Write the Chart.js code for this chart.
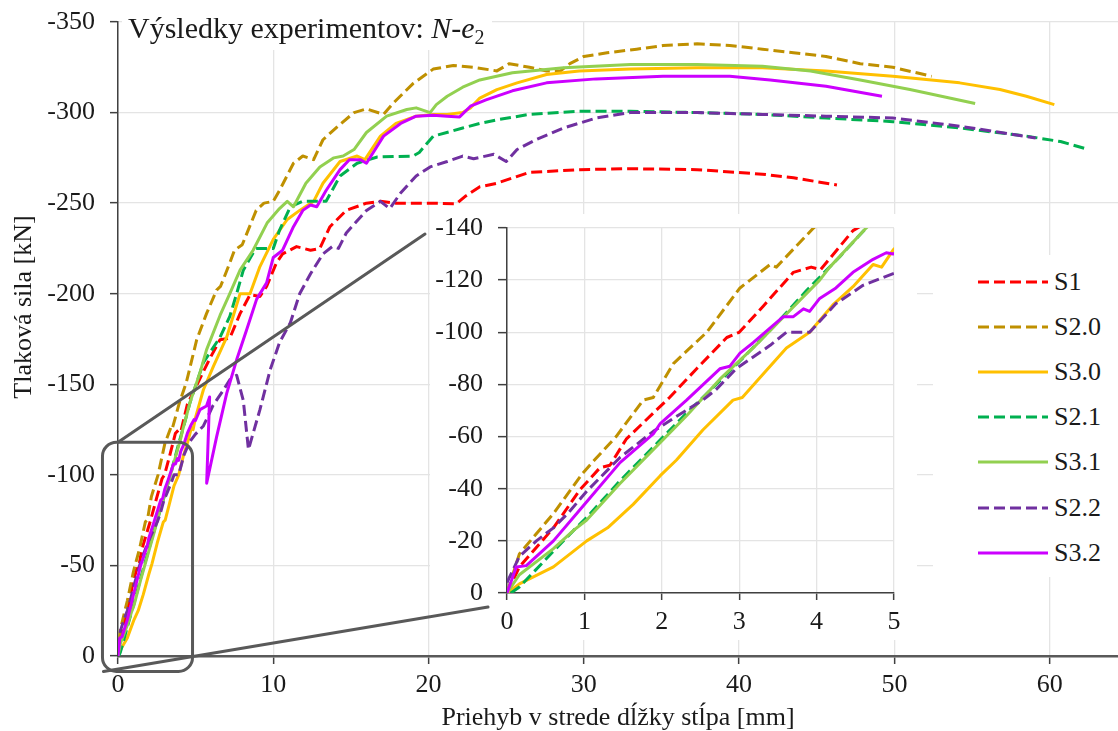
<!DOCTYPE html>
<html>
<head>
<meta charset="utf-8">
<title>Výsledky experimentov: N-e2</title>
<script src="https://cdn.jsdelivr.net/npm/chart.js@4.4.1/dist/chart.umd.min.js"></script>
<style>
  body { margin: 0; background: #fff; }
  #wrap { position: relative; width: 1118px; height: 731px; overflow: hidden; background: #fff; }
  #mainChart { position: absolute; left: 0; top: 0; }
  #insetChart { position: absolute; left: 430px; top: 214px; background: #fff; }
  #legend { position: absolute; left: 933px; top: 255px; width: 185px; height: 322px; background: #fff;
            font-family: 'Liberation Serif', 'Times New Roman', serif; font-size: 26px; color: #1a1a1a;
            padding-top: 4px; box-sizing: border-box; }
  .row { height: 45.2px; display: flex; align-items: center; white-space: nowrap; }
  .row svg { margin-left: 45px; margin-right: 6px; }
</style>
</head>
<body>
<div id="wrap">
  <canvas id="mainChart" width="1118" height="731"></canvas>
  <canvas id="insetChart" width="487" height="426"></canvas>
  <div id="legend"></div>
</div>
<script>
// ------------------------- DATA ----------------------------------------------

// deflection [mm] / force [kN], one pair of arrays per specimen
var s1X = [0, 0.16, 0.6, 0.94, 1.2, 1.33, 1.54, 1.89, 2.1, 2.45, 2.84, 3.0, 3.31, 3.7, 3.93, 4.05, 4.47, 5.1, 5.9, 6.57, 7.2, 7.86, 8.5, 9.14, 9.57, 10.2, 10.6, 11.5, 12.4, 13.0, 13.65, 14.7, 16.0, 16.9, 17.9, 20.1, 21.8, 22.4, 23.3, 24.4, 26.5, 29.7, 33.0, 37.3, 41.5, 43.5, 46.3];
var s1Y = [0, -10, -25, -39.5, -48, -49, -59, -69, -75, -86, -98, -100, -110, -123, -125, -124, -139, -150, -164, -174.6, -175.5, -189, -199.4, -198.5, -204, -217, -222, -226, -224, -225, -237, -246, -250, -251, -250, -250, -249.7, -254, -259, -261, -267, -268.5, -269, -268.5, -266, -264, -260];

var s20X = [0, 0.16, 0.6, 0.98, 1.13, 1.41, 1.76, 1.89, 2.15, 2.58, 3.01, 3.40, 3.48, 3.96, 4.4, 5.07, 5.7, 6.35, 6.6, 7.2, 7.5, 8.0, 8.9, 9.4, 10.0, 10.4, 11.3, 11.9, 12.6, 13.2, 14.1, 15.2, 16.0, 17.1, 17.7, 19.0, 20.3, 21.6, 22.9, 24.4, 25.2, 26.5, 27.6, 28.5, 29.1, 30.0, 31.5, 33.4, 35.1, 37.3, 39.4, 41.5, 43.5, 45.6, 47.8, 49.9, 52.4];
var s20Y = [0, -15, -30.5, -46, -51, -60, -74, -75, -88, -100, -117, -126, -125, -140, -151, -174.6, -189, -202, -204, -217, -224, -227, -246, -250, -251, -257, -272, -276, -274, -285, -292, -300, -302, -299, -305, -316, -324, -326, -325, -323, -327, -325, -323, -323, -327, -331, -333, -335, -337, -338, -337, -335, -333, -331, -327, -325, -320];

var s30X = [0, 0.16, 0.6, 1.03, 1.3, 1.63, 1.98, 2.19, 2.53, 2.92, 3.04, 3.31, 3.61, 3.91, 4.21, 4.47, 4.73, 4.84, 4.99, 5.5, 6.15, 7.0, 7.86, 8.5, 9.14, 10.0, 10.9, 11.7, 12.6, 13.2, 14.3, 15.4, 15.9, 16.9, 17.9, 19.2, 20.3, 21.2, 22.2, 22.7, 23.3, 24.4, 25.7, 27.6, 29.7, 33.0, 37.3, 41.5, 45.6, 49.9, 54.2, 56.8, 58.5, 60.3];
var s30Y = [0, -3.5, -10, -20, -25, -34, -45, -51, -62.5, -74, -75, -84, -94, -100, -110.5, -117.5, -126, -125, -131.6, -147, -160, -176, -200, -200, -215, -230, -241, -246, -251, -261, -273, -276, -274, -287, -294, -298, -299, -299, -300, -302.6, -308, -312.7, -316.4, -321, -323, -324, -324.7, -324.7, -323, -320, -316.4, -312.7, -309, -304.4];

var s21X = [0.05, 0.16, 0.6, 0.86, 1.03, 1.46, 1.89, 2.32, 2.67, 3.01, 3.44, 3.87, 4.3, 4.64, 5.5, 6.57, 7.2, 7.64, 8.07, 8.7, 8.9, 10.0, 10.4, 11.1, 11.9, 13.2, 13.4, 14.3, 15.4, 16.7, 19.0, 19.4, 20.3, 21.6, 22.2, 23.3, 24.4, 26.5, 29.7, 33.0, 37.3, 41.5, 45.6, 49.9, 54.2, 58.5, 60.7, 62.5];
var s21Y = [0, -2.3, -16, -24, -29, -43, -56, -69, -79, -89, -102, -116, -129, -140, -162, -176, -187.5, -200, -213, -222.5, -225, -225, -235, -248, -251, -251, -251, -265, -272, -275.5, -276, -278, -287, -290, -291.5, -294, -296, -299, -300.7, -300.7, -300, -299, -297, -295, -291.5, -287, -284, -279.6];

var s31X = [0, 0.16, 0.6, 0.86, 1.03, 1.46, 1.89, 2.32, 2.75, 3.18, 3.61, 4.04, 4.17, 4.64, 5.3, 5.7, 6.57, 7.2, 7.86, 8.7, 9.6, 10.4, 10.9, 11.3, 12.1, 13.0, 13.9, 14.5, 15.2, 16.0, 17.3, 18.6, 19.2, 20.1, 20.5, 21.2, 22.2, 23.3, 25.4, 28.7, 33.0, 37.3, 41.5, 44.6, 47.8, 51.0, 55.2];
var s31Y = [0, -7, -17, -24, -28, -42, -55, -68, -82, -94, -107, -120, -125, -140, -157, -169, -188, -200, -213, -224, -239, -247, -251, -248, -261, -270, -275, -276, -279.6, -289, -298, -301.7, -302.6, -300, -304.4, -309, -314, -318, -322, -324.7, -326.5, -326.5, -325.6, -323, -318, -312.7, -305];

var s22X = [0, 0.16, 0.38, 0.6, 0.8, 1.03, 1.46, 1.89, 2.15, 2.53, 2.7, 2.96, 3.40, 3.61, 3.91, 4.25, 4.6, 4.99, 5.5, 6.1, 6.8, 7.2, 7.64, 8.07, 8.4, 9.14, 9.8, 10.4, 11.1, 11.7, 12.4, 13.2, 13.8, 14.2, 14.7, 16.0, 16.9, 17.5, 18.2, 19.2, 20.1, 21.2, 22.2, 22.9, 24.2, 25.0, 25.7, 26.9, 28.7, 30.8, 33.0, 37.3, 41.5, 45.6, 49.9, 54.2, 59.1];
var s22Y = [-4, -14, -20, -25, -31, -39, -52, -62, -67, -74, -78, -86, -95, -100, -100, -111, -118, -122.5, -127, -138, -147, -152.5, -155, -141, -114, -136, -158, -173, -184, -200, -211, -222, -226, -225, -233.5, -246, -251, -247, -255.6, -265, -270, -273, -276, -274.5, -277, -273, -279.6, -285, -291.5, -297, -300, -300, -299, -298, -297, -292.5, -286];

var s32X = [0, 0.12, 0.25, 0.6, 1.03, 1.46, 1.89, 1.98, 2.32, 2.75, 2.88, 3.01, 3.18, 3.57, 3.7, 3.83, 3.91, 4.04, 4.25, 4.47, 4.73, 4.9, 4.99, 5.28, 5.7, 5.9, 5.71, 6.35, 7.0, 7.64, 8.28, 8.93, 9.57, 10.0, 10.6, 11.3, 11.9, 12.4, 12.8, 13.4, 14.3, 14.9, 15.6, 16.0, 17.1, 18.2, 19.2, 20.3, 21.2, 22.0, 22.7, 23.7, 25.4, 27.6, 30.8, 35.1, 39.4, 42.0, 45.6, 49.2];
var s32Y = [0, -10, -10.5, -20, -35, -50, -61, -65, -74, -86, -87, -92, -96, -106, -106, -109, -108, -113, -117, -123, -128, -130.5, -130, -136, -138, -143, -95.4, -121, -145, -163.5, -180, -197, -206, -220, -224, -237, -246, -249, -248, -257, -268.5, -274, -274, -272, -287, -294, -298, -298.5, -298, -297.6, -303.5, -307, -312, -316.4, -318.6, -320, -320, -318, -314.5, -309];

var seriesNames = ['S1', 'S2.0', 'S3.0', 'S2.1', 'S3.1', 'S2.2', 'S3.2'];
var seriesX = [s1X, s20X, s30X, s21X, s31X, s22X, s32X];
var seriesY = [s1Y, s20Y, s30Y, s21Y, s31Y, s22Y, s32Y];

// ticks
var mainXTicks = [0, 10, 20, 30, 40, 50, 60];
var mainYTicks = [0, -50, -100, -150, -200, -250, -300, -350];
var insetXTicks = [0, 1, 2, 3, 4, 5];
var insetYTicks = [0, -20, -40, -60, -80, -100, -120, -140];

// region that the inset enlarges (in main chart units)
var zoomBoxX = [-1, 4.8];
var zoomBoxY = [-118, 8.5];

// ------------------------- STYLE ---------------------------------------------

var seriesColors = ['#ff0000', '#bf9000', '#ffc000', '#00b050', '#92d050', '#7030a0', '#cc00ff'];
var seriesDashed = [true, true, false, true, false, true, false];
var dashPattern = [11, 5];
var fontFamily = "'Liberation Serif', 'Times New Roman', serif";
var textColor = '#1a1a1a';
var gridColor = '#e4e4e4';
var axisColor = '#404040';
var zoomColor = '#595959';

var insetLeft = 430, insetTop = 214;

Chart.defaults.font.family = fontFamily;
Chart.defaults.color = textColor;

// ------------------------- HELPERS -------------------------------------------

function makePoints(xs, ys) {
  var pts = [];
  for (var i = 0; i < xs.length; i++) {
    pts.push({x: xs[i], y: ys[i]});
  }
  return pts;
}

function makeDatasets() {
  var sets = [];
  for (var i = 0; i < seriesNames.length; i++) {
    sets.push({
      label: seriesNames[i],
      data: makePoints(seriesX[i], seriesY[i]),
      borderColor: seriesColors[i],
      backgroundColor: seriesColors[i],
      borderWidth: 3,
      borderDash: seriesDashed[i] ? dashPattern : [],
      borderCapStyle: 'butt',
      borderJoinStyle: 'round',
      pointRadius: 0,
      tension: 0,
      fill: false,
      order: seriesNames.length - i   // later series on top, as in the original
    });
  }
  return sets;
}

// fixed tick values instead of auto ones
function fixedTicks(values) {
  return function(scale) {
    scale.ticks = values.map(function(v) { return {value: v}; });
  };
}

// fix the axis box size and drop the extra room chart.js keeps for half labels
function fixSize(w, h) {
  return function(scale) {
    if (w) { scale.width = w; }
    if (h) { scale.height = h; }
    scale.paddingTop = 0;
    scale.paddingBottom = 0;
    scale.paddingLeft = 0;
    scale.paddingRight = 0;
  };
}

// zoom box + the two connector lines; main scales give the box, offset = canvas position
function drawConnectors(ctx, scales, offX, offY) {
  var sx = scales.x, sy = scales.y;
  var left = sx.getPixelForValue(zoomBoxX[0]), right = sx.getPixelForValue(zoomBoxX[1]);
  var top = sy.getPixelForValue(zoomBoxY[0]), bottom = sy.getPixelForValue(zoomBoxY[1]);
  ctx.save();
  ctx.translate(-offX, -offY);
  ctx.strokeStyle = zoomColor;
  ctx.lineWidth = 3;
  ctx.setLineDash([]);
  ctx.lineCap = 'round';
  if (offX === 0) {
    ctx.beginPath();
    ctx.roundRect(left, top, right - left, bottom - top, 14);
    ctx.stroke();
  }
  ctx.beginPath();
  ctx.moveTo(sx.getPixelForValue(0), top);
  ctx.lineTo(insetLeft - 5, insetTop + 20);
  ctx.moveTo(left + 1, bottom);
  ctx.lineTo(insetLeft + 58, insetTop + 393);
  ctx.stroke();
  ctx.restore();
}

// ------------------------- CHART RELATED -------------------------------------

var mainDecor = {
  id: 'mainDecor',
  beforeDatasetsDraw: function(chart) {
    var ctx = chart.ctx;
    ctx.save();
    // white patch behind the title
    ctx.fillStyle = '#fff';
    ctx.fillRect(122, 6, 370, 44);
    ctx.fillStyle = textColor;
    ctx.textBaseline = 'alphabetic';
    var x = 128, base = 38;
    ctx.font = '30px ' + fontFamily;
    ctx.fillText('Výsledky experimentov: ', x, base);
    x += ctx.measureText('Výsledky experimentov: ').width;
    ctx.font = 'italic 30px ' + fontFamily;
    ctx.fillText('N', x, base);
    x += ctx.measureText('N').width;
    ctx.font = '30px ' + fontFamily;
    ctx.fillText('-', x, base);
    x += ctx.measureText('-').width;
    ctx.font = 'italic 30px ' + fontFamily;
    ctx.fillText('e', x, base);
    x += ctx.measureText('e').width;
    ctx.font = '20px ' + fontFamily;
    ctx.fillText('2', x, base + 6);
    // y axis title
    ctx.font = '26px ' + fontFamily;
    ctx.translate(24, 307);
    ctx.rotate(-Math.PI / 2);
    ctx.textAlign = 'center';
    ctx.textBaseline = 'middle';
    ctx.fillText('Tlaková sila [kN]', 0, 0);
    ctx.restore();
  },
  afterDatasetsDraw: function(chart) {
    drawConnectors(chart.ctx, chart.scales, 0, 0);
  }
};

var mainChart;

var insetDecor = {
  id: 'insetDecor',
  afterDraw: function(chart) {
    if (mainChart) {
      drawConnectors(chart.ctx, mainChart.scales, insetLeft, insetTop);
    }
  }
};

mainChart = new Chart(document.getElementById('mainChart'), {
  type: 'line',
  data: { datasets: makeDatasets() },
  options: {
    responsive: false,
    animation: false,
    devicePixelRatio: 1,
    layout: { padding: { top: 22, right: 0, left: 0, bottom: 0 } },
    plugins: { legend: { display: false }, tooltip: { enabled: false } },
    scales: {
      x: {
        type: 'linear', min: 0, max: 64.4,
        afterBuildTicks: fixedTicks(mainXTicks),
        afterFit: fixSize(0, 75),
        ticks: { padding: 6, color: textColor, font: { size: 26 }, maxRotation: 0 },
        grid: { color: gridColor, lineWidth: 1.3, tickColor: axisColor, tickLength: 8, tickWidth: 1.5 },
        border: { color: '#595959', width: 2.5 },
        title: { display: true, text: 'Priehyb v strede dĺžky stĺpa [mm]', color: textColor,
                 font: { size: 26, lineHeight: 1 }, padding: 0 }
      },
      y: {
        type: 'linear', min: -350, max: 0, reverse: true,
        afterBuildTicks: fixedTicks(mainYTicks),
        afterFit: fixSize(118, 0),
        ticks: { padding: 15, color: textColor, font: { size: 26 } },
        grid: { color: gridColor, lineWidth: 1.3, tickColor: axisColor, tickLength: 8, tickWidth: 1.5 },
        border: { color: axisColor, width: 1.5 }
      }
    }
  },
  plugins: [mainDecor]
});

var insetChart = new Chart(document.getElementById('insetChart'), {
  type: 'line',
  data: { datasets: makeDatasets() },
  options: {
    responsive: false,
    animation: false,
    devicePixelRatio: 1,
    layout: { padding: { top: 14, right: 23, left: 0, bottom: 0 } },
    plugins: { legend: { display: false }, tooltip: { enabled: false } },
    scales: {
      x: {
        type: 'linear', min: 0, max: 5,
        afterBuildTicks: fixedTicks(insetXTicks),
        afterFit: fixSize(0, 47),
        ticks: { padding: 7, color: textColor, font: { size: 26 }, maxRotation: 0 },
        grid: { color: gridColor, lineWidth: 1.3, tickColor: axisColor, tickLength: 7, tickWidth: 1.5 },
        border: { color: axisColor, width: 1.5 }
      },
      y: {
        type: 'linear', min: -140, max: 0, reverse: true,
        afterBuildTicks: fixedTicks(insetYTicks),
        afterFit: fixSize(77, 0),
        ticks: { padding: 15, color: textColor, font: { size: 26 } },
        grid: { color: gridColor, lineWidth: 1.3, tickColor: axisColor, tickLength: 9, tickWidth: 1.5 },
        border: { color: axisColor, width: 1.5 }
      }
    }
  },
  plugins: [insetDecor]
});

// ------------------------- LEGEND --------------------------------------------

function makeLegend() {
  var box = document.getElementById('legend');
  for (var i = 0; i < seriesNames.length; i++) {
    var row = document.createElement('div');
    row.className = 'row';
    var dash = seriesDashed[i] ? ' stroke-dasharray="' + dashPattern.join(' ') + '"' : '';
    row.innerHTML = '<svg width="70" height="6"><line x1="0" y1="3" x2="70" y2="3" stroke="' +
      seriesColors[i] + '" stroke-width="3"' + dash + '/></svg><span>' + seriesNames[i] + '</span>';
    box.appendChild(row);
  }
}
makeLegend();
</script>
</body>
</html>
